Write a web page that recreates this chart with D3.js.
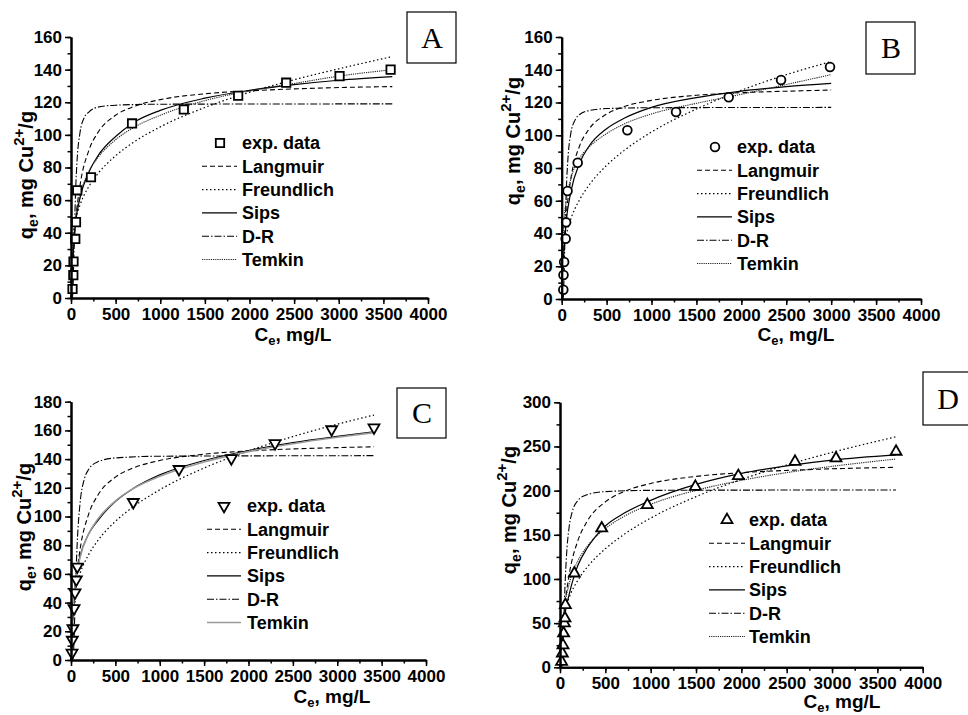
<!DOCTYPE html>
<html>
<head>
<meta charset="utf-8">
<script src="https://cdn.jsdelivr.net/npm/d3@7"></script>
<style>
  body { margin: 0; background: #fff; }
  text { font-family: "Liberation Sans", Arial, sans-serif; font-weight: bold; }
</style>
</head>
<body>
<svg id="chart" width="968" height="715"></svg>
<script>
// ---- data ----
const xMajor = d3.range(0, 4001, 500);
const xMinor = d3.range(0, 4001, 250);
const seriesNames = ["Langmuir", "Freundlich", "Sips", "D-R", "Temkin"];

// panel A
const A_expC = [17, 26, 28, 48, 56, 70, 224, 684, 1264, 1873, 2411, 3009, 3581];
const A_expQ = [5.5, 14, 22.4, 36.2, 46.5, 66, 74, 107, 115.6, 124, 132, 136, 140];
const A_langmuir = [[0,0],[20,23.4],[50,46.2],[100,68.6],[200,90.5],[300,101.3],[500,112],[700,117.3],[1000,121.6],[1500,125.2],[2000,127],[2500,128.2],[3000,129],[3600,129.6]];
const A_freundlich = [[0,0],[1,16.7],[5,25.6],[20,37.1],[50,47.3],[100,56.8],[200,68.4],[300,76.1],[500,87.2],[700,95.4],[1000,104.9],[1500,116.8],[2000,126.1],[2500,133.8],[3000,140.5],[3600,148]];
const A_sips = [[0,0],[10,10],[20,22],[50,45],[100,61],[200,77],[300,87],[500,99],[700,107.5],[1000,115],[1500,122.5],[2000,127.3],[2500,130.8],[3000,133.5],[3600,135.7]];
const A_dr = [[0,0],[15,0.3],[20,2.5],[30,21],[40,44],[50,63],[70,86],[100,101],[150,110.8],[200,114],[300,117],[500,118.2],[1000,118.8],[3600,119]];
const A_temkin = [[6,2],[10,13],[20,28],[50,48],[100,62.5],[200,77.5],[300,86],[500,97],[700,104.5],[1000,112],[1500,121],[2000,127],[2500,131.5],[3000,136],[3600,140]];

// panel B
const B_expC = [18, 20, 27, 44, 49, 65, 178, 731, 1273, 1859, 2442, 2987];
const B_expQ = [5.7, 14.7, 22.6, 36.8, 46.8, 66, 83.2, 103, 114.2, 123.2, 133.7, 141.7];
const B_langmuir = [[0,0],[20,26.2],[50,50.4],[100,72.8],[200,93.6],[300,103.4],[500,112.9],[700,117.6],[1000,121.3],[1500,124.4],[2000,126],[2500,126.9],[3000,127.6]];
const B_freundlich = [[0,0],[1,11],[5,18.5],[20,28.9],[50,38.9],[100,48.6],[200,60.7],[300,69.2],[500,81.6],[700,90.9],[1000,102],[1500,116],[2000,127.5],[2500,137],[3000,145]];
const B_sips = [[0,0],[10,11],[20,24],[50,47],[100,65],[200,83],[300,93],[500,104],[700,110.5],[1000,117],[1500,123],[2000,127],[2500,129.7],[3000,131.7]];
const B_dr = [[0,0],[15,0.3],[20,3.2],[30,22.9],[40,46.4],[50,64.6],[70,86.2],[100,100.7],[150,109.4],[200,112.7],[300,115],[500,116.3],[1000,116.8],[3000,117]];
const B_temkin = [[2,0],[5,17],[10,30],[20,43],[50,60],[100,73],[200,86],[300,92.5],[500,101],[700,107],[1000,113],[1500,119.5],[2000,125],[2500,131],[3000,137]];

// panel C
const C_expC = [11, 15, 22, 34, 45, 60, 71, 702, 1217, 1807, 2299, 2937, 3414];
const C_expQ = [5, 14, 22, 36, 47, 56, 65, 110, 133, 140.5, 151, 160.7, 162];
const C_langmuir = [[0,0],[20,25.4],[50,50.8],[100,76.2],[200,101.8],[300,114.6],[500,127.4],[700,133.8],[1000,139],[1500,143.4],[2000,145.7],[2500,147.1],[3000,148],[3414,148.6]];
const C_freundlich = [[0,0],[1,15.3],[5,24.6],[20,37.2],[50,48.8],[100,59.9],[200,73.6],[300,83],[500,96.6],[700,106.7],[1000,118.6],[1500,133.8],[2000,145.7],[2500,155.7],[3000,164.3],[3414,170.7]];
const C_sips = [[0,0],[10,12],[20,30],[50,55],[70,63],[100,72],[200,88],[300,97],[500,110.5],[700,119.5],[1000,129],[1500,139],[2000,146],[2500,151.5],[3000,155.8],[3414,159]];
const C_dr = [[0,0],[20,0.2],[30,7.2],[40,26],[50,47.9],[70,81.4],[100,108],[150,126],[200,132.9],[300,138.1],[500,140.8],[1000,142],[3414,142.4]];
const C_temkin = [[6,1],[10,14],[20,31],[50,53.5],[100,70.8],[200,88],[300,98],[500,110.8],[700,119.4],[1000,128],[1500,138],[2000,145.2],[2500,150.7],[3000,155.2],[3414,158.4]];

// panel D
const D_expC = [18, 26, 33, 40, 48, 55, 59, 158, 460, 963, 1493, 1967, 2592, 3044, 3706];
const D_expQ = [6.4, 15.8, 25, 38.5, 50, 55.5, 70.6, 106.4, 157.4, 183.8, 204.5, 216.6, 232.8, 236.6, 244.2];
const D_langmuir = [[0,0],[20,32.4],[50,67],[100,104.2],[200,144.2],[300,165.4],[500,187.3],[700,198.7],[1000,208.1],[1500,216.1],[2000,220.3],[2500,222.9],[3000,224.7],[3706,226.4]];
const D_freundlich = [[0,0],[1,17],[5,29.1],[20,46.1],[50,62.5],[100,78.7],[200,99],[300,113.3],[500,134.2],[700,150],[1000,168.9],[1500,193.2],[2000,212.6],[2500,229],[3000,243.3],[3706,261]];
const D_sips = [[0,0],[10,15],[20,28],[50,57],[100,82],[158,104],[200,116],[300,135],[500,160],[700,174],[1000,189],[1500,207],[2000,219.5],[2500,228],[3000,234.5],[3706,240.4]];
const D_dr = [[0,0],[20,0.6],[30,15],[40,46.2],[50,78.1],[70,123.6],[100,158.2],[130,174.3],[200,189.1],[300,195.5],[500,198.9],[1000,200.3],[3706,200.8]];
const D_temkin = [[9,0],[20,31],[50,67],[100,94],[200,121],[300,137],[500,157],[700,170.5],[1000,184.5],[1500,200.3],[2000,211.6],[2500,220.4],[3000,227.5],[3706,235.8]];

// ---- line styles ----
const lineStyle = {
  "Langmuir":   {dash: "5,3", color: "#000", width: 1.1},
  "Freundlich": {dash: "1.5,2.5", color: "#000", width: 1.2},
  "Sips":       {dash: null, color: "#000", width: 1.2},
  "D-R":        {dash: "7,2,1.5,2", color: "#000", width: 1.1},
  "Temkin":     {dash: "1.2,1", color: "#222", width: 1.1}
};

const panels = [
  {label: "A", left: 71, right: 428, top: 37, bottom: 298, yMax: 160, yStep: 20, yMinor: 10,
   marker: "square", exp: [A_expC, A_expQ],
   curves: [A_langmuir, A_freundlich, A_sips, A_dr, A_temkin],
   box: [407, 12, 49, 51], leg: {sx: 220, lx0: 202, lx1: 237, tx: 242, y0: 143, dy: 23.3},
   xt: [293, 341], yt: [33, 175]},
  {label: "B", left: 561.7, right: 921, top: 37, bottom: 299, yMax: 160, yStep: 20, yMinor: 10,
   marker: "circle", exp: [B_expC, B_expQ],
   curves: [B_langmuir, B_freundlich, B_sips, B_dr, B_temkin],
   box: [866, 22, 49, 52], leg: {sx: 715, lx0: 697, lx1: 732, tx: 737, y0: 147, dy: 23.3},
   xt: [796, 341], yt: [520, 141]},
  {label: "C", left: 71, right: 426, top: 401.7, bottom: 660, yMax: 180, yStep: 20, yMinor: 10,
   marker: "triangleDown", exp: [C_expC, C_expQ],
   curves: [C_langmuir, C_freundlich, C_sips, C_dr, C_temkin], temkinGray: true,
   box: [397, 388, 49, 50], leg: {sx: 224, lx0: 207, lx1: 241, tx: 247, y0: 506, dy: 23.3},
   xt: [332, 703], yt: [31, 527]},
  {label: "D", left: 560, right: 922.7, top: 402.3, bottom: 667.3, yMax: 300, yStep: 50, yMinor: 25,
   marker: "triangleUp", exp: [D_expC, D_expQ],
   curves: [D_langmuir, D_freundlich, D_sips, D_dr, D_temkin],
   box: [923, 372, 60, 53], leg: {sx: 727, lx0: 709, lx1: 745, tx: 749, y0: 520, dy: 23.3},
   xt: [842, 708], yt: [516, 510]}
];

const svg = d3.select("#chart");

function markerPath(kind) {
  if (kind === "square") return d3.symbol(d3.symbolSquare, 70)();
  if (kind === "circle") return d3.symbol(d3.symbolCircle, 60)();
  return d3.symbol(d3.symbolTriangle, 52)();
}

function drawMarker(g, kind, cx, cy) {
  g.append("path")
    .attr("d", markerPath(kind))
    .attr("transform", `translate(${cx},${cy})` + (kind === "triangleDown" ? " rotate(180)" : ""))
    .attr("fill", "#fff")
    .attr("stroke", "#000")
    .attr("stroke-width", 1.8);
}

function styleAxis(g) {
  g.select(".domain").attr("stroke-width", 2);
  g.selectAll(".tick line").attr("stroke-width", 1.5);
  g.selectAll("text").attr("font-size", 17).attr("fill", "#000");
}

function drawPanel(p) {
  const g = svg.append("g");
  const x = d3.scaleLinear().domain([0, 4000]).range([p.left, p.right]);
  const y = d3.scaleLinear().domain([0, p.yMax]).range([p.bottom, p.top]);

  // curves
  const line = d3.line()
    .x(d => x(d[0]))
    .y(d => y(d[1]))
    .curve(d3.curveMonotoneX);
  seriesNames.forEach((name, i) => {
    const st = lineStyle[name];
    const gray = name === "Temkin" && p.temkinGray;
    g.append("path")
      .datum(p.curves[i])
      .attr("fill", "none")
      .attr("stroke", gray ? "#999" : st.color)
      .attr("stroke-width", gray ? 1.6 : st.width)
      .attr("stroke-dasharray", gray ? null : st.dash)
      .attr("d", line);
  });

  // experimental points
  const [cs, qs] = p.exp;
  cs.forEach((c, i) => drawMarker(g, p.marker, x(c), y(qs[i])));

  // axes: minor ticks then major ticks
  g.append("g").attr("transform", `translate(0,${p.bottom})`)
    .call(d3.axisBottom(x).tickValues(xMinor).tickSize(3.5).tickSizeOuter(0).tickFormat(""))
    .call(styleAxis);
  g.append("g").attr("transform", `translate(0,${p.bottom})`)
    .call(d3.axisBottom(x).tickValues(xMajor).tickSize(6).tickSizeOuter(0).tickPadding(4).tickFormat(d3.format("d")))
    .call(styleAxis);
  g.append("g").attr("transform", `translate(${p.left},0)`)
    .call(d3.axisLeft(y).tickValues(d3.range(0, p.yMax + 0.1, p.yMinor)).tickSize(3.5).tickSizeOuter(0).tickFormat(""))
    .call(styleAxis);
  g.append("g").attr("transform", `translate(${p.left},0)`)
    .call(d3.axisLeft(y).tickValues(d3.range(0, p.yMax + 0.1, p.yStep)).tickSize(6).tickSizeOuter(0).tickPadding(3).tickFormat(d3.format("d")))
    .call(styleAxis);

  // axis titles
  const xt = g.append("text")
    .attr("x", p.xt[0]).attr("y", p.xt[1])
    .attr("text-anchor", "middle").attr("font-size", 19);
  xt.append("tspan").text("C");
  xt.append("tspan").attr("font-size", 13).attr("dy", 4).text("e");
  xt.append("tspan").attr("dy", -4).text(", mg/L");

  const yt = g.append("text")
    .attr("transform", `translate(${p.yt[0]},${p.yt[1]}) rotate(-90)`)
    .attr("text-anchor", "middle").attr("font-size", 20);
  yt.append("tspan").text("q");
  yt.append("tspan").attr("font-size", 14).attr("dy", 5).text("e");
  yt.append("tspan").attr("dy", -5).text(", mg Cu");
  yt.append("tspan").attr("font-size", 15).attr("dy", -9).text("2+");
  yt.append("tspan").attr("dy", 9).text("/g");

  // panel letter box
  const [bx, by, bw, bh] = p.box;
  g.append("rect").attr("x", bx).attr("y", by).attr("width", bw).attr("height", bh)
    .attr("fill", "#fff").attr("stroke", "#000").attr("stroke-width", 1.2);
  g.append("text").attr("x", bx + 25).attr("y", by + bh / 2 + 10)
    .attr("text-anchor", "middle")
    .style("font-family", "'Liberation Serif', 'Times New Roman', serif")
    .style("font-weight", "normal")
    .attr("font-size", 30).text(p.label);

  // legend
  const L = p.leg;
  drawMarker(g, p.marker, L.sx, L.y0);
  g.append("text").attr("x", L.tx).attr("y", L.y0).attr("dy", "0.35em")
    .attr("font-size", 18).text("exp. data");
  seriesNames.forEach((name, i) => {
    const yy = L.y0 + L.dy * (i + 1);
    const st = lineStyle[name];
    const gray = name === "Temkin" && p.temkinGray;
    g.append("line").attr("x1", L.lx0).attr("x2", L.lx1).attr("y1", yy).attr("y2", yy)
      .attr("stroke", gray ? "#999" : st.color)
      .attr("stroke-width", gray ? 1.6 : st.width)
      .attr("stroke-dasharray", gray ? null : st.dash);
    g.append("text").attr("x", L.tx).attr("y", yy).attr("dy", "0.35em")
      .attr("font-size", 18).text(name);
  });
}

panels.forEach(drawPanel);
</script>
</body>
</html>
